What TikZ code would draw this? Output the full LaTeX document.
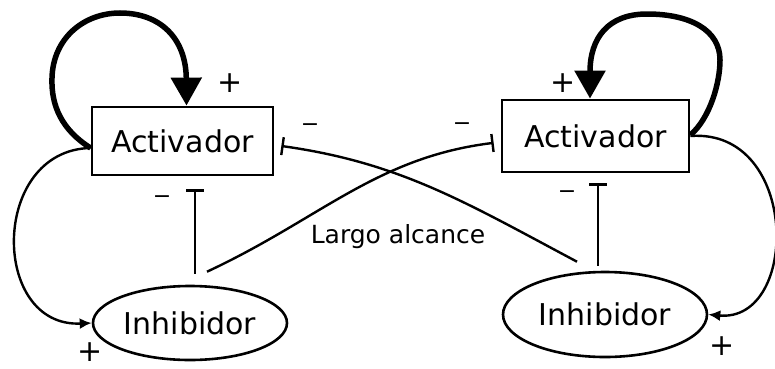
\documentclass[tikz,border=0pt]{standalone}
\usepackage{fontspec}
\setmainfont{DejaVu Sans}
\usetikzlibrary{shapes.geometric, arrows.meta, positioning}
\tikzstyle{actbox} = [rectangle, draw=black, line width=2.8pt, inner sep=0pt, font=\fontsize{30}{36}\selectfont]
\tikzstyle{inhnode} = [ellipse, draw=black, line width=2.6pt, inner sep=0pt, font=\fontsize{30}{36}\selectfont]
\tikzstyle{selfloop} = [line width=5.5pt, -{Triangle[width=30pt, length=28pt]}]
\tikzstyle{activ} = [line width=2.4pt, -{Latex[width=11pt, length=12pt]}]
\tikzstyle{repress} = [line width=2.4pt, -{Bar[width=18pt]}]
\tikzstyle{plus} = [inner sep=0pt, font=\fontsize{30}{36}\selectfont]
\tikzstyle{minus} = [inner sep=0pt, font=\fontsize{22}{26}\selectfont]

\begin{document}
\begin{tikzpicture}[x=1pt, y=1pt]
    \useasboundingbox (0,0) rectangle (775,368);

    % Activator / inhibitor pairs
    \node[actbox, minimum width=181pt, minimum height=68pt] (a1) at (182.5,227) {Activador};
    \node[actbox, minimum width=187pt, minimum height=72pt] (a2) at (595.5,232) {Activador};
    \node[inhnode, minimum width=194pt, minimum height=74pt] (h1) at (190,45) {Inhibidor};
    \node[inhnode, minimum width=204pt, minimum height=85pt] (h2) at (605,53.5) {Inhibidor};

    % Self activation
    \draw[selfloop] ([yshift=-7pt]a1.west) .. controls (62,238) and (51,262) .. (52,290)
        .. controls (53,330) and (84,355) .. (120,355)
        .. controls (160,355) and (186,330) .. ([xshift=4pt]a1.north);
    \draw[selfloop] ([yshift=1pt]a2.east) .. controls (710,250) and (720,285) .. (720,308)
        .. controls (720,338) and (690,354) .. (647,354)
        .. controls (608,354) and (590,330) .. ([xshift=-5.5pt]a2.north);

    % Activation of the inhibitor
    \draw[activ] ([yshift=-7pt]a1.west) .. controls (-10,218) and (-10,40) .. (h1.west);
    \draw[activ] (a2.east) .. controls (800,240) and (800,45) .. (h2.east);

    % Local inhibition
    \draw[repress, shorten <=11pt, shorten >=13pt] ([xshift=5pt]h1.north) -- ([xshift=12.5pt]a1.south);
    \draw[repress, shorten <=5pt, shorten >=10pt] ([xshift=-7pt]h2.north) -- ([xshift=2.5pt]a2.south);

    % Long range inhibition
    \draw[repress, shorten >=7pt] ([xshift=17pt, yshift=13pt]h1.north) to[out=25, in=187] ([yshift=-6pt]a2.west);
    \draw[repress, shorten >=7pt] ([xshift=-28pt, yshift=9pt]h2.north) to[out=152, in=-8] ([yshift=-4pt]a1.east);
    \node[font=\fontsize{25}{30}\selectfont] (la) at (398,131) {Largo alcance};

    % Signs
    \node[plus] (s1) at (230,285) {+};
    \node[plus] (s2) at (90,16) {+};
    \node[plus] (s3) at (563,285) {+};
    \node[plus] (s4) at (722,22) {+};
    \node[minus] (m1) at (162,168) {−};
    \node[minus] (m2) at (310,240) {−};
    \node[minus] (m3) at (462,241) {−};
    \node[minus] (m4) at (567,173) {−};
\end{tikzpicture}
\end{document}
